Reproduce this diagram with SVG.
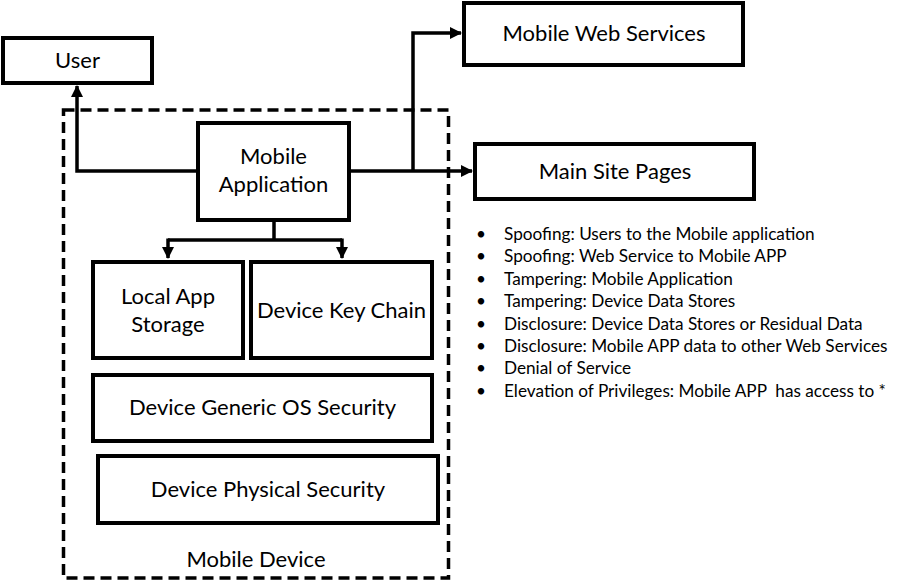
<svg xmlns="http://www.w3.org/2000/svg" width="902" height="588" viewBox="0 0 902 588">
<style>
.box{fill:#fff;stroke:#000;stroke-width:4}
.t{font-family:Lato,"Liberation Sans",sans-serif;font-size:22px;fill:#000;text-anchor:middle}
.b{font-family:Lato,"Liberation Sans",sans-serif;font-size:17.2px;fill:#000}
.c{fill:none;stroke:#000;stroke-width:3.5;stroke-linejoin:miter}
</style>
<defs>
<marker id="ah" markerUnits="userSpaceOnUse" markerWidth="12" markerHeight="12" refX="11" refY="6" orient="auto">
<path d="M0,0 L12,6 L0,12 Z" fill="#000"/>
</marker>
</defs>
<rect width="902" height="588" fill="#fff"/>
<g id="mobile-device">
<rect x="63.5" y="110" width="385" height="468" fill="none" stroke="#000" stroke-width="3.5" stroke-dasharray="11,6"/>
<text class="t" x="256" y="567">Mobile Device</text>
</g>
<g id="connectors">
<path class="c" d="M198,171 H77 V86" marker-end="url(#ah)"/>
<path class="c" d="M349,171 H472" marker-end="url(#ah)"/>
<path class="c" d="M413,171 V33 H461" marker-end="url(#ah)"/>
<path class="c" d="M274,220 V240 M168,240 H342"/>
<path class="c" d="M168,238.5 V258" marker-end="url(#ah)"/>
<path class="c" d="M342,238.5 V258" marker-end="url(#ah)"/>
</g>
<g id="user"><rect class="box" x="3" y="38" width="149" height="45"/><text class="t" x="77.5" y="68">User</text></g>
<g id="mobile-web-services"><rect class="box" x="464" y="3" width="279" height="62"/><text class="t" x="604" y="41">Mobile Web Services</text></g>
<g id="main-site-pages"><rect class="box" x="475" y="144" width="279" height="55"/><text class="t" x="615" y="179">Main Site Pages</text></g>
<g id="mobile-application"><rect class="box" x="198" y="123" width="151" height="97"/><text class="t" x="273.5" y="164">Mobile</text><text class="t" x="273.5" y="192">Application</text></g>
<g id="local-app-storage"><rect class="box" x="93" y="262" width="150" height="96"/><text class="t" x="168" y="304">Local App</text><text class="t" x="168" y="332">Storage</text></g>
<g id="device-key-chain"><rect class="box" x="251" y="262" width="181" height="96"/><text class="t" x="341.5" y="318">Device Key Chain</text></g>
<g id="device-generic-os-security"><rect class="box" x="93" y="375" width="339" height="66"/><text class="t" x="262.5" y="415">Device Generic OS Security</text></g>
<g id="device-physical-security"><rect class="box" x="98" y="456" width="340" height="67"/><text class="t" x="268" y="497">Device Physical Security</text></g>
<g id="threats">
<g class="b">
<text x="476" y="240">•</text><text x="504" y="240">Spoofing: Users to the Mobile application</text>
<text x="476" y="262">•</text><text x="504" y="262">Spoofing: Web Service to Mobile APP</text>
<text x="476" y="285">•</text><text x="504" y="285">Tampering: Mobile Application</text>
<text x="476" y="307">•</text><text x="504" y="307">Tampering: Device Data Stores</text>
<text x="476" y="330">•</text><text x="504" y="330">Disclosure: Device Data Stores or Residual Data</text>
<text x="476" y="352">•</text><text x="504" y="352">Disclosure: Mobile APP data to other Web Services</text>
<text x="476" y="374">•</text><text x="504" y="374">Denial of Service</text>
<text x="476" y="397">•</text><text x="504" y="397">Elevation of Privileges: Mobile APP&#160; has access to *</text>
</g>
</g>
</svg>
